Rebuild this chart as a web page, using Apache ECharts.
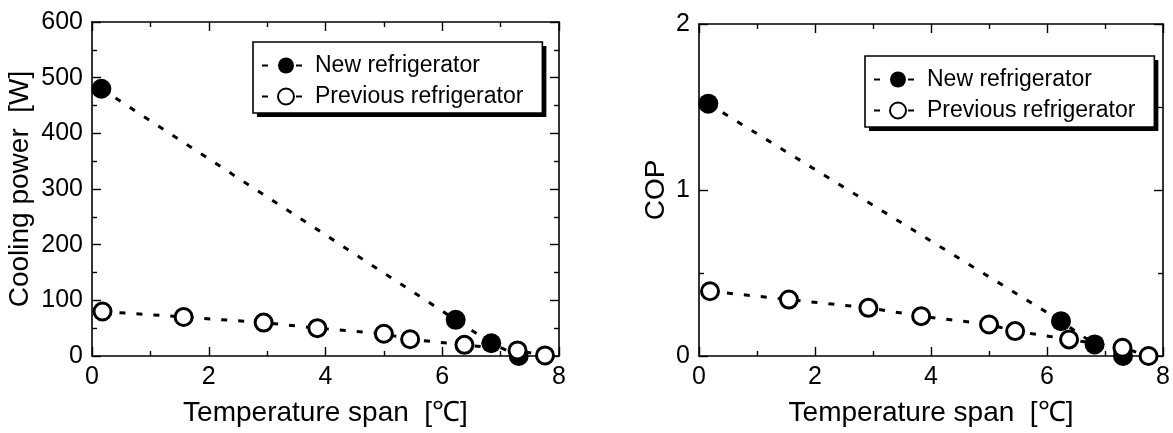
<!DOCTYPE html>
<html>
<head>
<meta charset="utf-8">
<script src="https://cdn.jsdelivr.net/npm/echarts@6/dist/echarts.min.js"></script>
<style>
  html, body { margin: 0; padding: 0; background: #fff; }
  #chart { width: 1173px; height: 433px; }
</style>
</head>
<body>
<div id="chart"></div>
<script>
// ======================
// DATA
// ======================

const seriesNames = ['New refrigerator', 'Previous refrigerator'];

// Temperature span [°C] -> cooling power [W]
const newSpan = [0.16, 6.23, 6.84, 7.31];
const newPower = [480, 65, 23, 0];
const prevSpan = [0.18, 1.57, 2.94, 3.86, 5.0, 5.45, 6.38, 7.29, 7.76];
const prevPower = [80, 70, 60, 50, 40, 30, 20, 10, 1];

// Temperature span [°C] -> COP
const newCopSpan = [0.16, 6.24, 6.82, 7.31];
const newCop = [1.52, 0.21, 0.07, 0];
const prevCopSpan = [0.19, 1.55, 2.92, 3.83, 5.0, 5.45, 6.38, 7.3, 7.75];
const prevCop = [0.39, 0.34, 0.29, 0.24, 0.19, 0.15, 0.1, 0.05, 0];

const xTitle = 'Temperature span  [\u2103]';
const yTitles = ['Cooling power  [W]', 'COP'];

// ======================
// HELPERS
// ======================

const FONT = '"Liberation Sans", Arial, sans-serif';
const zip = (xs, ys) => xs.map((x, i) => [x, ys[i]]);

const axisLine = { show: true, onZero: false, lineStyle: { color: '#000', width: 1.6 } };
const tick = { show: true, inside: true, length: 9, lineStyle: { color: '#000', width: 1.4 } };
const minor = { show: true, splitNumber: 2, length: 5, lineStyle: { color: '#000', width: 1.4 } };

function xAxis(gridIndex, position, labels) {
    return {
        type: 'value', gridIndex, position,
        min: 0, max: 8, interval: 2,
        axisLine, axisTick: tick, minorTick: minor,
        splitLine: { show: false },
        axisLabel: { show: labels, color: '#000', fontFamily: FONT, fontSize: 25, margin: 9 },
        name: labels ? xTitle : '',
        nameLocation: 'middle', nameGap: 43,
        nameTextStyle: { color: '#000', fontFamily: FONT, fontSize: 28 }
    };
}

function yAxis(gridIndex, position, max, interval, labels, name, nameGap) {
    return {
        type: 'value', gridIndex, position,
        min: 0, max, interval,
        axisLine, axisTick: tick, minorTick: minor,
        splitLine: { show: false },
        axisLabel: { show: labels, color: '#000', fontFamily: FONT, fontSize: 25, margin: 9 },
        name: labels ? name : '',
        nameLocation: 'middle', nameRotate: 90, nameGap,
        nameTextStyle: { color: '#000', fontFamily: FONT, fontSize: 28 }
    };
}

function lineSeries(name, data, idx, filled) {
    return {
        name, type: 'line', data,
        xAxisIndex: idx, yAxisIndex: idx,
        symbol: 'circle', symbolSize: filled ? 20 : 17,
        itemStyle: { color: filled ? '#000' : '#fff', borderColor: '#000', borderWidth: filled ? 0 : 3 },
        lineStyle: { color: '#000', width: 3, type: [6, 11] },
        animation: false
    };
}

// the box shadow is a second, empty legend drawn 4px lower right
function legend(left, top, shadow) {
    const lg = {
        data: seriesNames.map(n => ({ name: n })),
        orient: 'vertical',
        left: shadow ? left + 4 : left,
        top: shadow ? top + 4 : top,
        z: shadow ? 3 : 5,
        itemWidth: 48, itemHeight: 20, itemGap: 8,
        padding: [12, 19, 5, 8],
        backgroundColor: shadow ? '#000' : '#fff',
        borderColor: '#000', borderWidth: shadow ? 0 : 1.6, borderRadius: 0,
        textStyle: { color: shadow ? 'rgba(0,0,0,0)' : '#000', fontFamily: FONT, fontSize: 23 },
        selectedMode: false
    };
    if (shadow) {
        lg.itemStyle = { opacity: 0 };
        lg.lineStyle = { opacity: 0 };
    }
    return lg;
}

// ======================
// CHART
// ======================

const chart = echarts.init(document.getElementById('chart'), null, { renderer: 'canvas' });

const option = {
    backgroundColor: '#fff',
    animation: false,
    grid: [
        { left: 92, top: 22, width: 467, height: 334 },
        { left: 699, top: 24, width: 465, height: 332 }
    ],
    legend: [
        legend(253, 42, true), legend(253, 42, false),
        legend(865, 56, true), legend(865, 56, false)
    ],
    xAxis: [
        xAxis(0, 'bottom', true),
        xAxis(1, 'bottom', true),
        xAxis(0, 'top', false),
        xAxis(1, 'top', false)
    ],
    yAxis: [
        yAxis(0, 'left', 600, 100, true, yTitles[0], 58),
        yAxis(1, 'left', 2, 1, true, yTitles[1], 29),
        yAxis(0, 'right', 600, 100, false, ''),
        yAxis(1, 'right', 2, 1, false, '')
    ],
    series: [
        lineSeries(seriesNames[0], zip(newSpan, newPower), 0, true),
        lineSeries(seriesNames[1], zip(prevSpan, prevPower), 0, false),
        lineSeries(seriesNames[0], zip(newCopSpan, newCop), 1, true),
        lineSeries(seriesNames[1], zip(prevCopSpan, prevCop), 1, false)
    ]
};

chart.setOption(option);
</script>
</body>
</html>
